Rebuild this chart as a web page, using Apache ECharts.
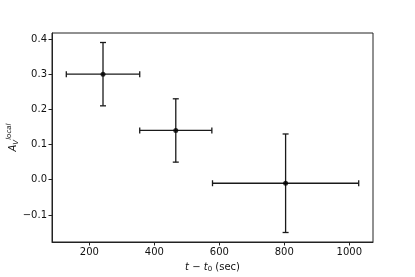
<!DOCTYPE html>
<html><head><meta charset="utf-8">
<script src="https://cdn.jsdelivr.net/npm/echarts@6/dist/echarts.min.js"></script>
<style>html,body{margin:0;padding:0;background:#fff}#c{width:415px;height:277px}</style>
</head><body><div id="c"></div>
<script>
const xValues = [242, 466, 804];
const yValues = [0.30, 0.14, -0.01];
const xErr = [113, 111, 225];
const yErr = [0.09, 0.09, 0.14];
const xTicks = [200, 400, 600, 800, 1000];
const yTicks = [-0.1, 0.0, 0.1, 0.2, 0.3, 0.4];

const errData = xValues.map((x, i) => [x, yValues[i], xErr[i], yErr[i]]);
const ptData = xValues.map((x, i) => [x, yValues[i]]);

const chart = echarts.init(document.getElementById('c'), null, {renderer: 'canvas'});
const font = 'DejaVu Sans';
const lineStyle = {stroke: '#1a1a1a', lineWidth: 1.3};
const cap = 3;

chart.setOption({
  animation: false,
  backgroundColor: '#fff',
  grid: {left: 52, right: 42, top: 33, bottom: 35, show: true, borderColor: '#222', borderWidth: 1,
         containLabel: false, outerBoundsMode: 'none'},
  xAxis: {
    type: 'value', min: 85, max: 1073,
    splitLine: {show: false},
    axisLine: {onZero: false, lineStyle: {color: '#222', width: 1}},
    axisTick: {show: true, length: 3.5, inside: false, customValues: xTicks, lineStyle: {color: '#222'}},
    axisLabel: {customValues: xTicks, color: '#111', fontFamily: font, fontSize: 10, margin: 5,
      formatter: v => String(v)},
    name: '{i|t} − {i|t}{sub|0} (sec)',
    nameLocation: 'middle', nameGap: 19, nameMoveOverlap: false,
    nameTextStyle: {color: '#111', fontFamily: font, fontSize: 10,
      rich: {i: {fontStyle: 'italic', fontFamily: font, fontSize: 10, color: '#111'},
             sub: {fontSize: 7, fontFamily: font, verticalAlign: 'bottom', padding: [5,0,0,0], color: '#111'}}}
  },
  yAxis: {
    type: 'value', min: -0.177, max: 0.417,
    splitLine: {show: false},
    axisLine: {onZero: false, lineStyle: {color: '#222', width: 1}},
    axisTick: {show: true, length: 3.5, inside: false, customValues: yTicks, lineStyle: {color: '#222'}},
    axisLabel: {customValues: yTicks, color: '#111', fontFamily: font, fontSize: 10, margin: 5,
      formatter: v => (Math.abs(v) < 1e-9 ? '0.0' : (v < 0 ? '−' + Math.abs(v).toFixed(1) : v.toFixed(1)))},
    name: '{i|A}{sub|V}{sup|local}',
    nameLocation: 'middle', nameGap: 39, nameRotate: 90, nameMoveOverlap: false,
    nameTextStyle: {color: '#111', fontFamily: font, fontSize: 10, verticalAlign: 'middle',
      rich: {i: {fontStyle: 'italic', fontFamily: font, fontSize: 10, color: '#111', verticalAlign: 'middle'},
             sub: {fontStyle: 'italic', fontSize: 7, fontFamily: font, color: '#111', verticalAlign: 'bottom', lineHeight: 14},
             sup: {fontStyle: 'italic', fontSize: 7, fontFamily: font, color: '#111', verticalAlign: 'top', lineHeight: 14}}}
  },
  series: [
    {
      type: 'custom',
      data: errData,
      renderItem: function (params, api) {
        const x = api.value(0), y = api.value(1), ex = api.value(2), ey = api.value(3);
        const l = api.coord([x - ex, y]), r = api.coord([x + ex, y]);
        const t = api.coord([x, y + ey]), b = api.coord([x, y - ey]);
        const mk = (x1, y1, x2, y2) => ({type: 'line', shape: {x1, y1, x2, y2}, style: lineStyle});
        return {type: 'group', children: [
          mk(l[0], l[1], r[0], r[1]),
          mk(t[0], t[1], b[0], b[1]),
          mk(l[0], l[1] - cap, l[0], l[1] + cap),
          mk(r[0], r[1] - cap, r[0], r[1] + cap),
          mk(t[0] - cap, t[1], t[0] + cap, t[1]),
          mk(b[0] - cap, b[1], b[0] + cap, b[1])
        ]};
      },
      z: 2
    },
    {
      type: 'scatter', data: ptData, symbol: 'circle', symbolSize: 5,
      itemStyle: {color: '#000'}, z: 3
    }
  ]
});
</script></body></html>
